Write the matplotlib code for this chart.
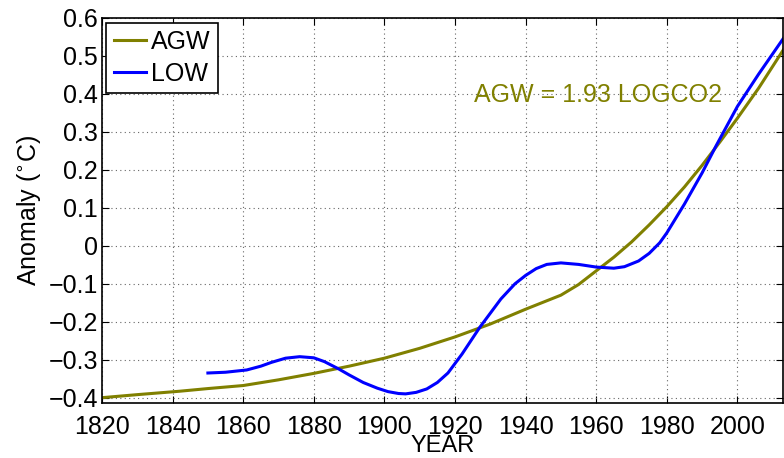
import matplotlib
matplotlib.use("Agg")
from matplotlib import pyplot as plt

# data
agw_years = [1820, 1830, 1842, 1850, 1860, 1870, 1880, 1890, 1900, 1910, 1920,
             1930, 1940, 1950, 1955, 1960, 1965, 1970, 1975, 1980, 1985, 1990,
             1995, 2000, 2006, 2013]
agw_vals = [-0.400, -0.392, -0.383, -0.376, -0.368, -0.353, -0.336, -0.317, -0.296,
            -0.270, -0.240, -0.206, -0.167, -0.130, -0.102, -0.066, -0.030, 0.010,
            0.055, 0.103, 0.155, 0.212, 0.273, 0.336, 0.415, 0.516]

low_years = [1850, 1855, 1861, 1865, 1868, 1872, 1876, 1880, 1883, 1887, 1890,
             1894, 1898, 1901, 1904, 1906, 1909, 1912, 1915, 1918, 1922, 1927,
             1933, 1937, 1940, 1943, 1946, 1950, 1955, 1960, 1965, 1968, 1972,
             1975, 1978, 1980, 1985, 1990, 1994, 2000, 2006, 2013]
low_vals = [-0.335, -0.333, -0.327, -0.317, -0.307, -0.296, -0.292, -0.295, -0.305,
            -0.324, -0.340, -0.360, -0.375, -0.384, -0.389, -0.390, -0.386, -0.377,
            -0.360, -0.335, -0.285, -0.215, -0.140, -0.100, -0.078, -0.060, -0.049,
            -0.045, -0.049, -0.056, -0.059, -0.055, -0.040, -0.020, 0.008, 0.034,
            0.110, 0.192, 0.264, 0.367, 0.452, 0.546]

xticks = list(range(1820, 2001, 20))
yticks = [-0.4, -0.3, -0.2, -0.1, 0, 0.1, 0.2, 0.3, 0.4, 0.5, 0.6]
ytick_labels = ['\u22120.4', '\u22120.3', '\u22120.2', '\u22120.1', '0',
                '0.1', '0.2', '0.3', '0.4', '0.5', '0.6']

olive = '#808000'

plt.rcParams['font.family'] = ['Liberation Sans', 'DejaVu Sans']

fig = plt.figure(figsize=(7.84, 4.58), dpi=100)
ax = fig.add_axes([0.1301, 0.1201, 0.869, 0.8406])

ax.plot(agw_years, agw_vals, color=olive, lw=2.2, label='AGW')
ax.plot(low_years, low_vals, color='#0000ff', lw=2.2, label='LOW')

ax.set_xlim(1820, 2013)
ax.set_ylim(-0.414, 0.6)
ax.set_xticks(xticks)
ax.set_yticks(yticks)
ax.set_yticklabels(ytick_labels)
ax.tick_params(direction='in', top=True, right=True, labelsize=18, length=5)
ax.tick_params(axis='x', pad=9)
ax.tick_params(axis='y', pad=3)
ax.grid(True, linestyle=(0, (1, 3)), color='#666666', linewidth=0.8)

ax.set_xlabel('YEAR', fontsize=17, labelpad=-3.5)
ax.set_ylabel('Anomaly ($^{\\circ}$C)', fontsize=18, labelpad=4)

ax.text(1925.4, 0.38, 'AGW = 1.93 LOGCO2', color=olive, fontsize=18)

leg = ax.legend(loc='upper left', bbox_to_anchor=(0.006, 0.988), borderaxespad=0,
                fontsize=18, fancybox=False, edgecolor='black', framealpha=1,
                handlelength=1.3, borderpad=0.3, labelspacing=0.3,
                handletextpad=0.2)
leg.get_frame().set_linewidth(1.2)

for s in ax.spines.values():
    s.set_linewidth(1.2)

plt.savefig('out.png', dpi=100)
